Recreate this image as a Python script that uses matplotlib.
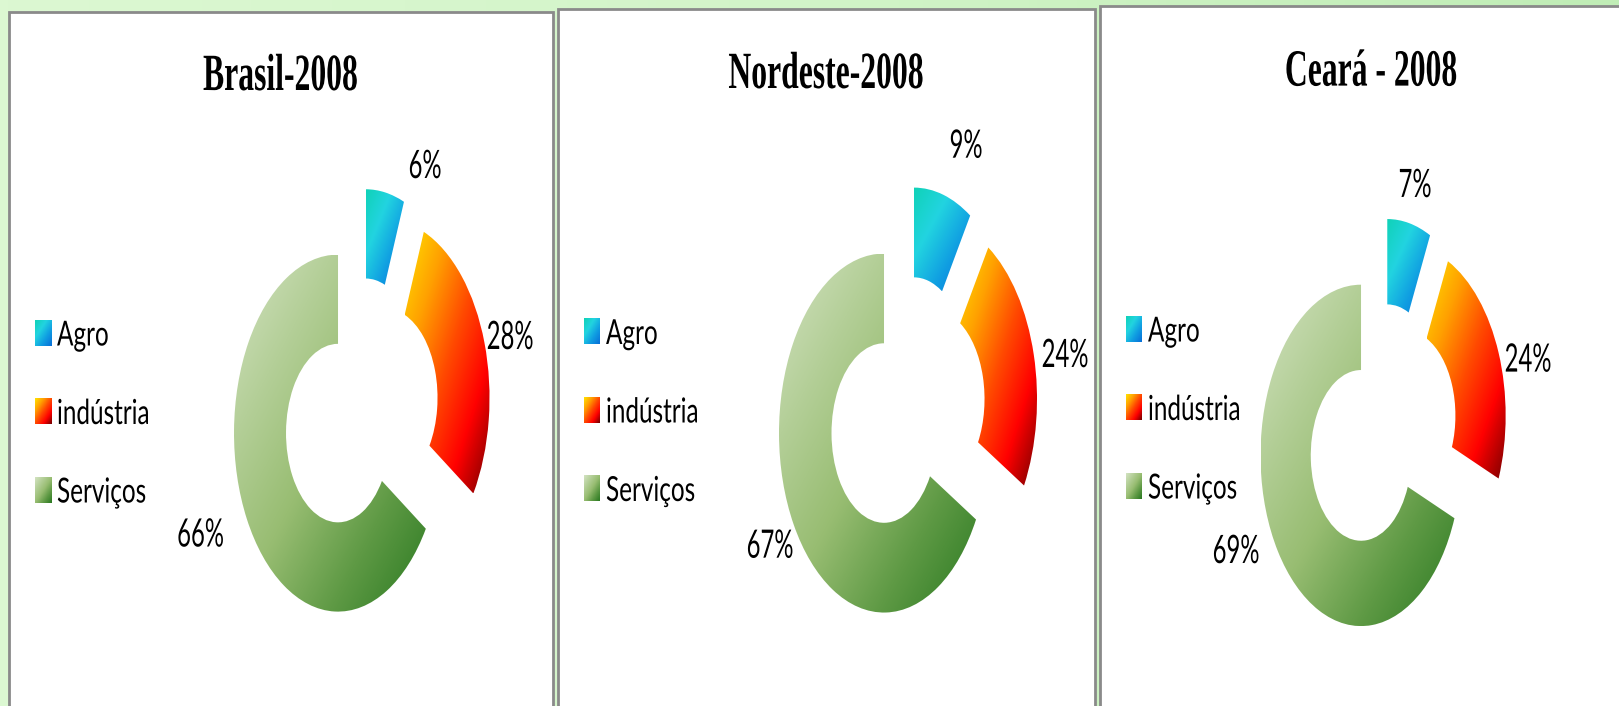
import numpy as np
import matplotlib
matplotlib.use("Agg")
import matplotlib.pyplot as plt
import matplotlib.patheffects as pe
from matplotlib.colors import LinearSegmentedColormap
from matplotlib.patches import Rectangle
from matplotlib.transforms import Affine2D

# data
categories = ["Agro", "indústria", "Serviços"]
titles = ["Brasil-2008", "Nordeste-2008", "Ceará - 2008"]
brasil = [6, 28, 66]
nordeste = [9, 24, 67]
ceara = [7, 24, 69]
series = [brasil, nordeste, ceara]

# gradient colours per category (top-left -> bottom-right)
grads = [
    ["#10d2b8", "#22d4e0", "#109ee2", "#0870d8"],
    ["#ffe000", "#ffa000", "#ff4a00", "#ff0000", "#780000"],
    ["#d2e2c0", "#b4cf98", "#98bd72", "#5f9a45", "#2c7a22"],
]

W, H = 1619, 706

# layout in reference pixels (y down)
panels = [(9, 12, 544), (558, 9, 537), (1100, 6, 560)]
donut_geom = [(360.8, 411.6, 104, 178.5), (906.6, 410.2, 105, 179.5), (1381.8, 431.4, 100.5, 170.7)]
title_pos = [(280.5, 90), (826, 88), (1371, 85.6)]
legend_pos = [(35, 320), (584, 318.5), (1126, 316)]
label_pos = [
    [(425, 178), (510, 349), (200.5, 546.5)],
    [(966, 157.7), (1065, 367), (770, 557.7)],
    [(1415, 197), (1528, 371.6), (1236, 563)],
]


class VStretch(pe.AbstractPathEffect):
    """stretch text vertically around its baseline (the source image is stretched)"""
    def __init__(self, sy):
        super().__init__()
        self.sy = sy

    def draw_path(self, renderer, gc, tpath, affine, rgbFace=None):
        x0, y0 = affine.transform((0, 0))
        t = affine + Affine2D().translate(0, -y0).scale(1, self.sy).translate(0, y0)
        renderer.draw_path(gc, tpath, t, rgbFace)


def grad_img(ax, colors, extent, clip=None, n=80, z=2):
    cmap = LinearSegmentedColormap.from_list("g", colors)
    i, j = np.mgrid[0:n, 0:n]
    t = (i + j) / (2 * (n - 1))
    im = ax.imshow(t, cmap=cmap, extent=extent, origin="upper", aspect="auto",
                   interpolation="bilinear", vmin=0, vmax=1, zorder=z)
    if clip is not None:
        im.set_clip_path(clip)
    return im


fig = plt.figure(figsize=(W / 100, H / 100), dpi=100)

# background
bg = fig.add_axes([0, 0, 1, 1], zorder=0)
bgimg = np.linspace(0, 1, 200)[None, :]
bg.imshow(bgimg, cmap=LinearSegmentedColormap.from_list("bg", ["#dcf8d2", "#d2f4c8", "#c0edb6"]),
          extent=(0, W, H, 0), aspect="auto")
for x0, y0, pw in panels:
    bg.add_patch(Rectangle((x0, y0), pw, 900, facecolor="white", edgecolor="#8a8a8a", lw=2.0))
bg.set_xlim(0, W)
bg.set_ylim(H, 0)
bg.axis("off")

# donuts
L = 1.45
for k, vals in enumerate(series):
    cx, cy, rx, ry = donut_geom[k]
    ax = fig.add_axes([(cx - L * rx) / W, 1 - (cy + L * ry) / H, 2 * L * rx / W, 2 * L * ry / H], zorder=2)
    wedges, _ = ax.pie(vals, radius=1, explode=[0.25] * len(vals), startangle=90, counterclock=False,
                       wedgeprops=dict(width=0.5, edgecolor="none"))
    for w, cols in zip(wedges, grads):
        bb = w.get_path().get_extents()
        w.set_facecolor("none")
        grad_img(ax, cols, (bb.x0, bb.x1, bb.y0, bb.y1), clip=w)
    ax.set_xlim(-L, L)
    ax.set_ylim(-L, L)
    ax.set_aspect("auto")
    ax.axis("off")

# text, legends
ov = fig.add_axes([0, 0, 1, 1], zorder=5)
ov.set_xlim(0, W)
ov.set_ylim(H, 0)
ov.axis("off")

leg_font = dict(fontfamily="Lato", fontsize=17.5, color="black", path_effects=[VStretch(1.42)])
pct_font = dict(fontfamily="Lato", fontsize=17.2, color="black", path_effects=[VStretch(1.64)])
for k, vals in enumerate(series):
    tx, ty = title_pos[k]
    ov.text(tx, ty, titles[k], ha="center", va="baseline", fontfamily="Liberation Serif",
            fontweight="bold", fontsize=22.8, path_effects=[VStretch(1.65)])
    sx, sy = legend_pos[k]
    for i, cat in enumerate(categories):
        top = sy + i * 78.5
        grad_img(ov, grads[i], (sx, sx + 16, top + 26, top), n=20, z=3)
        ov.text(sx + 22, top + 25.5, cat, ha="left", va="baseline", **leg_font)
    for i, v in enumerate(vals):
        lx, ly = label_pos[k][i]
        ov.text(lx, ly, f"{v}%", ha="center", va="baseline", **pct_font)
ov.set_xlim(0, W)
ov.set_ylim(H, 0)

fig.savefig("out.png", dpi=100)
